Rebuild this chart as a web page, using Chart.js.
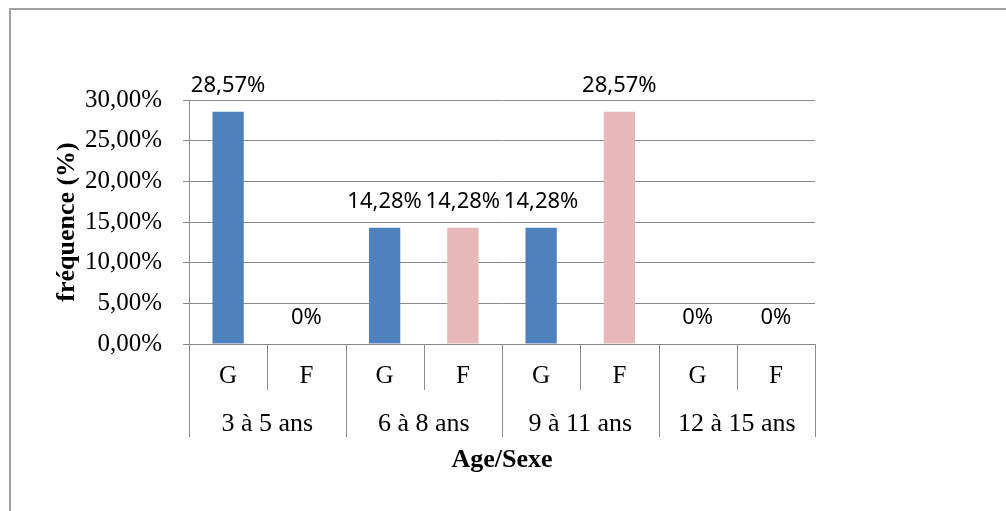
<!DOCTYPE html>
<html lang="fr">
<head>
<meta charset="utf-8">
<title>Fréquence par âge et sexe</title>
<script src="https://cdn.jsdelivr.net/npm/chart.js@4/dist/chart.umd.min.js"></script>
<style>
  html, body { margin: 0; padding: 0; background: #ffffff; }
  #wrap { width: 1006px; height: 511px; position: relative; }
  canvas { display: block; }
</style>
</head>
<body>
<div id="wrap"><canvas id="chart" width="1006" height="511"></canvas></div>
<script>
// Sexe de chaque barre et tranche d'âge à laquelle elle appartient
const sexes = ['G', 'F', 'G', 'F', 'G', 'F', 'G', 'F'];
const ageGroups = ['3 à 5 ans', '6 à 8 ans', '9 à 11 ans', '12 à 15 ans'];
// Fréquence (%) pour chaque barre
const frequences = [28.57, 0, 14.28, 14.28, 14.28, 28.57, 0, 0];
// Étiquettes de valeur affichées au-dessus des barres
const valueLabels = ['28,57%', '0%', '14,28%', '14,28%', '14,28%', '28,57%', '0%', '0%'];
// Graduations de l'axe vertical
const yMin = 0, yMax = 30, yStep = 5;

const BLUE = '#4F81BD';
const PINK = '#E6B9B8';
const GRID = '#8a8a8a';
const SERIF = '"Liberation Serif", "Times New Roman", serif';
const SANS = '"Noto Sans", "Open Sans", sans-serif';

const barColors = sexes.map(s => (s === 'G' ? BLUE : PINK));

const decorations = {
  id: 'decorations',
  beforeDraw(chart) {
    const ctx = chart.ctx;
    ctx.save();
    ctx.strokeStyle = '#a0a0a0';
    ctx.lineWidth = 2;
    ctx.strokeRect(10, 9, 1030, 540);
    ctx.restore();
  },
  afterDraw(chart) {
    const ctx = chart.ctx;
    const x = chart.scales.x;
    const area = chart.chartArea;
    const n = sexes.length;
    const half = (x.getPixelForValue(1) - x.getPixelForValue(0)) / 2;
    const axisY = area.bottom;

    ctx.save();
    // séparateurs de l'axe des catégories
    ctx.strokeStyle = GRID;
    ctx.lineWidth = 1;
    for (let i = 0; i <= n; i++) {
      const px = Math.round(x.getPixelForValue(0) - half + i * 2 * half) + 0.5;
      const len = (i % 2 === 0) ? 93 : 46;
      ctx.beginPath();
      ctx.moveTo(px, axisY);
      ctx.lineTo(px, axisY + len);
      ctx.stroke();
    }

    ctx.fillStyle = '#000000';
    ctx.textAlign = 'center';
    ctx.textBaseline = 'alphabetic';

    // G / F
    ctx.font = '25px ' + SERIF;
    sexes.forEach((s, i) => {
      ctx.fillText(s, x.getPixelForValue(i), axisY + 39);
    });

    // tranches d'âge
    ctx.font = '26px ' + SERIF;
    ageGroups.forEach((g, k) => {
      const cx = (x.getPixelForValue(2 * k) + x.getPixelForValue(2 * k + 1)) / 2;
      ctx.fillText(g, cx, axisY + 87);
    });

    // titre de l'axe horizontal
    ctx.font = 'bold 26px ' + SERIF;
    ctx.fillText('Age/Sexe', (area.left + area.right) / 2, 467);

    // titre de l'axe vertical
    ctx.save();
    ctx.translate(74, (area.top + area.bottom) / 2);
    ctx.rotate(-Math.PI / 2);
    ctx.fillText('fréquence (%)', 0, 0);
    ctx.restore();

    // valeurs au-dessus des barres
    ctx.font = '22px ' + SANS;
    const meta = chart.getDatasetMeta(0);
    meta.data.forEach((bar, i) => {
      ctx.fillText(valueLabels[i], bar.x, bar.y - 20);
    });
    ctx.restore();
  }
};

new Chart(document.getElementById('chart'), {
  type: 'bar',
  data: {
    labels: sexes,
    datasets: [{
      data: frequences,
      backgroundColor: barColors,
      borderWidth: 0,
      categoryPercentage: 1.0,
      barPercentage: 0.4
    }]
  },
  options: {
    responsive: false,
    animation: false,
    events: [],
    layout: { padding: { left: 0, top: 100, right: 191, bottom: 167 } },
    plugins: {
      legend: { display: false },
      tooltip: { enabled: false },
      title: { display: false }
    },
    scales: {
      x: {
        display: false,
        offset: true
      },
      y: {
        min: yMin,
        max: yMax,
        afterFit(scale) { scale.width = 189; },
        ticks: {
          stepSize: yStep,
          padding: 21,
          color: '#000000',
          font: { family: SERIF, size: 25 },
          callback: v => v.toFixed(2).replace('.', ',') + '%'
        },
        grid: {
          color: GRID,
          lineWidth: 1,
          drawTicks: true,
          tickLength: 6,
          tickColor: GRID
        },
        border: { display: true, color: GRID, width: 1 }
      }
    }
  },
  plugins: [decorations]
});
</script>
</body>
</html>
